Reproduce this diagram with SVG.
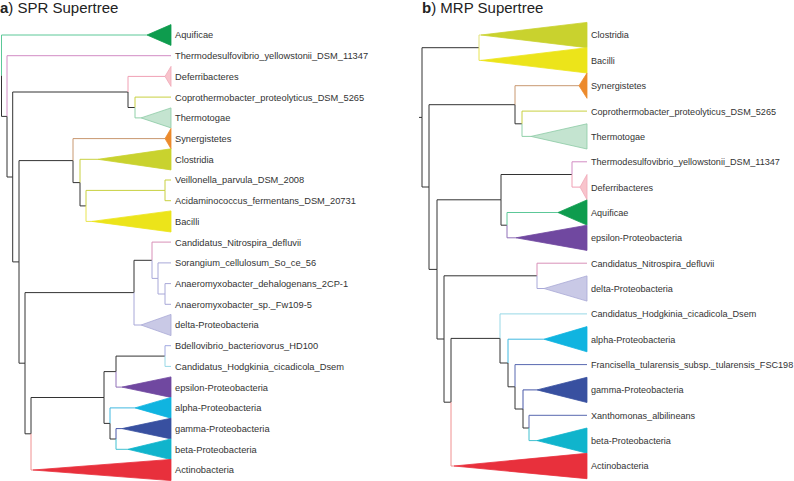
<svg xmlns="http://www.w3.org/2000/svg" width="794" height="481" viewBox="0 0 794 481">
<style>
text{font-family:"Liberation Sans",Arial,sans-serif;fill:#333}
.lb{font-size:9.3px}
.rb{font-size:9.1px}
.tt{font-size:15px;fill:#222}
.tt tspan{font-weight:bold}
#connectors path{fill:none;stroke-width:1}
.k{stroke:#333}
.c-aq{stroke:#5cc898}.c-td{stroke:#d28cc4}.c-df{stroke:#f0a0b4}.c-cp{stroke:#c8d040}
.c-tg{stroke:#90d0a8}.c-sy{stroke:#c89870}.c-cl{stroke:#c8d040}.c-ba{stroke:#e8e450}
.c-ni{stroke:#d890b8}.c-dl{stroke:#a8a8d8}.c-bd{stroke:#a0a8e0}.c-hd{stroke:#98d8e6}
.c-ep{stroke:#9070b8}.c-al{stroke:#40b8e0}.c-ga{stroke:#4858a8}.c-be{stroke:#40c0d0}
.c-ac{stroke:#f09090}.c-fr{stroke:#5868b0}.c-cl2{stroke:#e2e27a}
.t-aq{fill:#0e9c4e;stroke:#0e9c4e}.t-df{fill:#f8c4cc;stroke:#f0a8b8}.t-tg{fill:#c4e4d0;stroke:#8ccaa4}
.t-sy{fill:#ec8a2c;stroke:#ec8a2c}.t-cl{fill:#c9d22e;stroke:#c9d22e}.t-ba{fill:#ece41a;stroke:#ece41a}
.t-dl{fill:#c9c9e6;stroke:#a8a8d6}.t-ep{fill:#7048a0;stroke:#7048a0}.t-al{fill:#10b4e0;stroke:#10b4e0}
.t-ga{fill:#3850a0;stroke:#3850a0}.t-be{fill:#10b4cc;stroke:#10b4cc}.t-ac{fill:#e8303c;stroke:#e8303c}
polygon{stroke-width:0.8}
</style>
<text class="tt" x="0" y="12.5"><tspan>a</tspan>) SPR Supertree</text>
<text class="tt" x="422" y="12.5"><tspan>b</tspan>) MRP Supertree</text>
<g id="connectors">
<!-- left tree -->
<path class="c-aq" d="M1.5 75.7V35H147"/>
<path class="k" d="M1.5 75.7V116.4H7"/>
<path class="c-td" d="M7 116.4V55.7H171"/>
<path class="k" d="M7 116.4V177H12.7"/>
<path class="k" d="M12.7 177V92H128"/>
<path class="k" d="M12.7 177V261.9H19"/>
<path class="c-df" d="M128 92V76.4H165"/>
<path class="k" d="M128 92V107.5H135"/>
<path class="c-cp" d="M135 107.5V97.1H171"/>
<path class="c-tg" d="M135 107.5V117.9H141"/>
<path class="k" d="M19 261.9V160.6H73"/>
<path class="k" d="M19 261.9V363.2H25"/>
<path class="c-sy" d="M73 160.6V138.6H165"/>
<path class="k" d="M73 160.6V182.6H80"/>
<path class="c-cl" d="M80 182.6V159.3H98"/>
<path class="k" d="M80 182.6V205.9H86"/>
<path class="c-cl" d="M86 205.9V190.4H165"/>
<path class="c-ba" d="M86 205.9V221.4H92"/>
<path class="c-cl" d="M165 190.4V180H171"/>
<path class="c-cl" d="M165 190.4V200.7H171"/>
<path class="k" d="M25 363.2V292.6H134"/>
<path class="k" d="M25 363.2V433.8H31"/>
<path class="k" d="M134 292.6V260.3H152"/>
<path class="c-dl" d="M134 292.6V325H141"/>
<path class="c-ni" d="M152 260.3V242.1H171"/>
<path class="c-dl" d="M152 260.3V278.4H158"/>
<path class="c-dl" d="M158 278.4V262.9H171"/>
<path class="c-dl" d="M158 278.4V294H165"/>
<path class="c-dl" d="M165 294V283.6H171"/>
<path class="c-dl" d="M165 294V304.3H171"/>
<path class="k" d="M31 433.8V397.5H104"/>
<path class="c-ac" d="M31 433.8V470H33"/>
<path class="k" d="M104 397.5V371.6H116"/>
<path class="k" d="M104 397.5V423.4H110"/>
<path class="k" d="M116 371.6V356.1H165"/>
<path class="c-ep" d="M116 371.6V387.1H122"/>
<path class="c-bd" d="M165 356.1V345.7H171"/>
<path class="c-hd" d="M165 356.1V366.4H171"/>
<path class="c-al" d="M110 423.4V407.9H135"/>
<path class="k" d="M110 423.4V439H116"/>
<path class="c-ga" d="M116 439V428.6H122"/>
<path class="c-be" d="M116 439V449.3H128"/>
<!-- right tree -->
<path class="k" d="M419 117.4H422"/>
<path class="k" d="M422 117.4V47.7H479"/>
<path class="k" d="M422 117.4V187H429"/>
<path class="c-cl2" d="M479 47.7V35H481"/>
<path class="c-ba" d="M479 47.7V60.4H481"/>
<path class="k" d="M429 187V104.7H515"/>
<path class="k" d="M429 187V269.4H437"/>
<path class="c-sy" d="M515 104.7V85.7H579"/>
<path class="k" d="M515 104.7V123.8H522"/>
<path class="c-cp" d="M522 123.8V111.1H587"/>
<path class="c-tg" d="M522 123.8V136.4H531"/>
<path class="k" d="M437 269.4V199.8H501"/>
<path class="k" d="M437 269.4V339H444"/>
<path class="k" d="M501 199.8V174.5H572"/>
<path class="k" d="M501 199.8V225.2H507"/>
<path class="c-td" d="M572 174.5V161.8H587"/>
<path class="c-df" d="M572 174.5V187.1H580"/>
<path class="c-aq" d="M507 225.2V212.5H558"/>
<path class="c-ep" d="M507 225.2V237.8H516"/>
<path class="k" d="M444 339V275.8H537"/>
<path class="k" d="M444 339V402.2H451"/>
<path class="c-ni" d="M537 275.8V263.2H587"/>
<path class="c-dl" d="M537 275.8V288.5H544"/>
<path class="k" d="M451 402.2V338.4H500"/>
<path class="c-ac" d="M451 402.2V466H454"/>
<path class="c-hd" d="M500 338.4V313.9H587"/>
<path class="k" d="M500 338.4V363H508"/>
<path class="c-al" d="M508 363V339.2H544"/>
<path class="k" d="M508 363V386.8H515"/>
<path class="c-fr" d="M515 386.8V364.6H587"/>
<path class="k" d="M515 386.8V409H523"/>
<path class="c-ga" d="M523 409V389.9H537"/>
<path class="k" d="M523 409V428H529"/>
<path class="c-fr" d="M529 428V415.3H587"/>
<path class="c-be" d="M529 428V440.6H537"/>
</g>
<!-- left leaves -->
<g id="a-aquificae"><polygon class="t-aq" points="147,35 171,24.6 171,45.4"/><text class="lb" x="175" y="38.4">Aquificae</text></g>
<g id="a-thermodesulfovibrio"><text class="lb" x="175" y="59.1">Thermodesulfovibrio_yellowstonii_DSM_11347</text></g>
<g id="a-deferribacteres"><polygon class="t-df" points="165,76.4 171,66.4 171,86.4"/><text class="lb" x="175" y="79.8">Deferribacteres</text></g>
<g id="a-coprothermobacter"><text class="lb" x="175" y="100.5">Coprothermobacter_proteolyticus_DSM_5265</text></g>
<g id="a-thermotogae"><polygon class="t-tg" points="141,117.9 171,107.9 171,127.9"/><text class="lb" x="175" y="121.3">Thermotogae</text></g>
<g id="a-synergistetes"><polygon class="t-sy" points="165,138.6 171,128.4 171,148.8"/><text class="lb" x="175" y="142">Synergistetes</text></g>
<g id="a-clostridia"><polygon class="t-cl" points="98,159.3 171,148.8 171,169.9"/><text class="lb" x="175" y="162.7">Clostridia</text></g>
<g id="a-veillonella"><text class="lb" x="175" y="183.4">Veillonella_parvula_DSM_2008</text></g>
<g id="a-acidaminococcus"><text class="lb" x="175" y="204.1">Acidaminococcus_fermentans_DSM_20731</text></g>
<g id="a-bacilli"><polygon class="t-ba" points="92,221.4 171,210.9 171,232"/><text class="lb" x="175" y="224.8">Bacilli</text></g>
<g id="a-nitrospira"><text class="lb" x="175" y="245.5">Candidatus_Nitrospira_defluvii</text></g>
<g id="a-sorangium"><text class="lb" x="175" y="266.3">Sorangium_cellulosum_So_ce_56</text></g>
<g id="a-anaeromyxobacter-dehalogenans"><text class="lb" x="175" y="287">Anaeromyxobacter_dehalogenans_2CP-1</text></g>
<g id="a-anaeromyxobacter-sp"><text class="lb" x="175" y="307.7">Anaeromyxobacter_sp._Fw109-5</text></g>
<g id="a-delta"><polygon class="t-dl" points="141,325 171,314.4 171,335.6"/><text class="lb" x="175" y="328.4">delta-Proteobacteria</text></g>
<g id="a-bdellovibrio"><text class="lb" x="175" y="349.1">Bdellovibrio_bacteriovorus_HD100</text></g>
<g id="a-hodgkinia"><text class="lb" x="175" y="369.8">Candidatus_Hodgkinia_cicadicola_Dsem</text></g>
<g id="a-epsilon"><polygon class="t-ep" points="122,387.1 171,376.9 171,397.4"/><text class="lb" x="175" y="390.5">epsilon-Proteobacteria</text></g>
<g id="a-alpha"><polygon class="t-al" points="135,407.9 171,397.4 171,418.2"/><text class="lb" x="175" y="411.3">alpha-Proteobacteria</text></g>
<g id="a-gamma"><polygon class="t-ga" points="122,428.6 171,418.2 171,438.9"/><text class="lb" x="175" y="432">gamma-Proteobacteria</text></g>
<g id="a-beta"><polygon class="t-be" points="128,449.3 171,438.9 171,459.6"/><text class="lb" x="175" y="452.7">beta-Proteobacteria</text></g>
<g id="a-actinobacteria"><polygon class="t-ac" points="33,470 171,459.4 171,480.6"/><text class="lb" x="175" y="473.4">Actinobacteria</text></g>
<!-- right leaves -->
<g id="b-clostridia"><polygon class="t-cl" points="481,35 587,22.4 587,47.7"/><text class="rb" x="591" y="38.4">Clostridia</text></g>
<g id="b-bacilli"><polygon class="t-ba" points="481,60.4 587,47.7 587,73"/><text class="rb" x="591" y="63.8">Bacilli</text></g>
<g id="b-synergistetes"><polygon class="t-sy" points="579,85.7 587,73.1 587,98.3"/><text class="rb" x="591" y="89.1">Synergistetes</text></g>
<g id="b-coprothermobacter"><text class="rb" x="591" y="114.5">Coprothermobacter_proteolyticus_DSM_5265</text></g>
<g id="b-thermotogae"><polygon class="t-tg" points="531,136.4 587,123.8 587,149"/><text class="rb" x="591" y="139.8">Thermotogae</text></g>
<g id="b-thermodesulfovibrio"><text class="rb" x="591" y="165.2">Thermodesulfovibrio_yellowstonii_DSM_11347</text></g>
<g id="b-deferribacteres"><polygon class="t-df" points="580,187.1 587,174.5 587,199.7"/><text class="rb" x="591" y="190.5">Deferribacteres</text></g>
<g id="b-aquificae"><polygon class="t-aq" points="558,212.5 587,199.9 587,225.1"/><text class="rb" x="591" y="215.9">Aquificae</text></g>
<g id="b-epsilon"><polygon class="t-ep" points="516,237.8 587,225.2 587,250.4"/><text class="rb" x="591" y="241.2">epsilon-Proteobacteria</text></g>
<g id="b-nitrospira"><text class="rb" x="591" y="266.6">Candidatus_Nitrospira_defluvii</text></g>
<g id="b-delta"><polygon class="t-dl" points="544,288.5 587,275.9 587,301.1"/><text class="rb" x="591" y="291.9">delta-Proteobacteria</text></g>
<g id="b-hodgkinia"><text class="rb" x="591" y="317.3">Candidatus_Hodgkinia_cicadicola_Dsem</text></g>
<g id="b-alpha"><polygon class="t-al" points="544,339.2 587,326.6 587,351.8"/><text class="rb" x="591" y="342.6">alpha-Proteobacteria</text></g>
<g id="b-francisella"><text class="rb" x="591" y="368">Francisella_tularensis_subsp._tularensis_FSC198</text></g>
<g id="b-gamma"><polygon class="t-ga" points="537,389.9 587,377.3 587,402.5"/><text class="rb" x="591" y="393.3">gamma-Proteobacteria</text></g>
<g id="b-xanthomonas"><text class="rb" x="591" y="418.7">Xanthomonas_albilineans</text></g>
<g id="b-beta"><polygon class="t-be" points="537,440.6 587,428 587,453.2"/><text class="rb" x="591" y="444">beta-Proteobacteria</text></g>
<g id="b-actinobacteria"><polygon class="t-ac" points="454,466 587,453.3 587,478.7"/><text class="rb" x="591" y="469.4">Actinobacteria</text></g>
</svg>
